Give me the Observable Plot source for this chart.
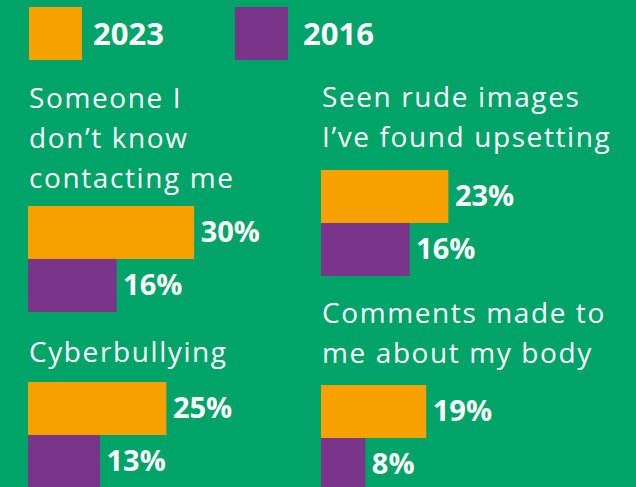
<!DOCTYPE html>
<html>
<head>
<meta charset="utf-8">
<script src="https://cdn.jsdelivr.net/npm/d3@7"></script>
<script src="https://cdn.jsdelivr.net/npm/@observablehq/plot@0.6"></script>
<style>
  html, body { margin: 0; padding: 0; }
  body { width: 636px; height: 487px; overflow: hidden; background: #00A368; position: relative; font-family: "Open Sans", sans-serif; color: #fff; }
  .sw { position: absolute; width: 53px; height: 53px; top: 7px; }
  .lg { position: absolute; top: 13px; font-weight: 700; font-size: 31px; line-height: 40px; letter-spacing: 0px; }
  .title { position: absolute; font-size: 28px; line-height: 40px; font-weight: 400; white-space: nowrap; letter-spacing: 1.6px; }
  .panel { position: absolute; }
  .panel svg { overflow: visible; }
</style>
</head>
<body>
<script>
const years = ["2023", "2016"];
const colors = ["#F7A100", "#7A358A"];
const categories = [
  "Someone I\ndon\u2019t know\ncontacting me",
  "Seen rude images\nI\u2019ve found upsetting",
  "Cyberbullying",
  "Comments made to\nme about my body"
];
const values2023 = [30, 23, 25, 19];
const values2016 = [16, 16, 13, 8];

// layout (panel anchor positions)
const layout = [
  {left: 29, titleTop: 77, barTop: 206},
  {left: 322, titleTop: 76, barTop: 170},
  {left: 29, titleTop: 331, barTop: 382},
  {left: 322, titleTop: 292, barTop: 385}
];

// legend
const legendX = [{sw: 29, tx: 93}, {sw: 235, tx: 303}];
years.forEach((y, i) => {
  const s = document.createElement("div");
  s.className = "sw"; s.style.left = legendX[i].sw + "px"; s.style.background = colors[i];
  document.body.appendChild(s);
  const t = document.createElement("div");
  t.className = "lg"; t.style.left = legendX[i].tx + "px"; t.textContent = y;
  document.body.appendChild(t);
});

categories.forEach((cat, i) => {
  const L = layout[i];
  const t = document.createElement("div");
  t.className = "title";
  t.style.left = L.left + "px"; t.style.top = L.titleTop + "px";
  t.innerHTML = cat.split("\n").join("<br>");
  document.body.appendChild(t);

  const data = [
    {year: years[0], value: values2023[i]},
    {year: years[1], value: values2016[i]}
  ];
  const chart = Plot.plot({
    width: 300,
    height: 106,
    margin: 0,
    x: {domain: [0, 52], range: [0, 288], axis: null},
    y: {domain: years, padding: 0, axis: null},
    color: {domain: years, range: colors},
    style: {background: "transparent", overflow: "visible"},
    marks: [
      Plot.barX(data, {x: "value", y: "year", fill: "year"}),
      Plot.text(data, {x: "value", y: "year", text: d => d.value + "%", dx: 6, textAnchor: "start", fill: "white", fontSize: 29, fontWeight: 700, fontFamily: "Open Sans", letterSpacing: "0.5px"})
    ]
  });
  const wrap = document.createElement("div");
  wrap.className = "panel";
  wrap.style.left = (L.left - 1) + "px"; wrap.style.top = L.barTop + "px";
  wrap.appendChild(chart);
  document.body.appendChild(wrap);
});
</script>
</body>
</html>
